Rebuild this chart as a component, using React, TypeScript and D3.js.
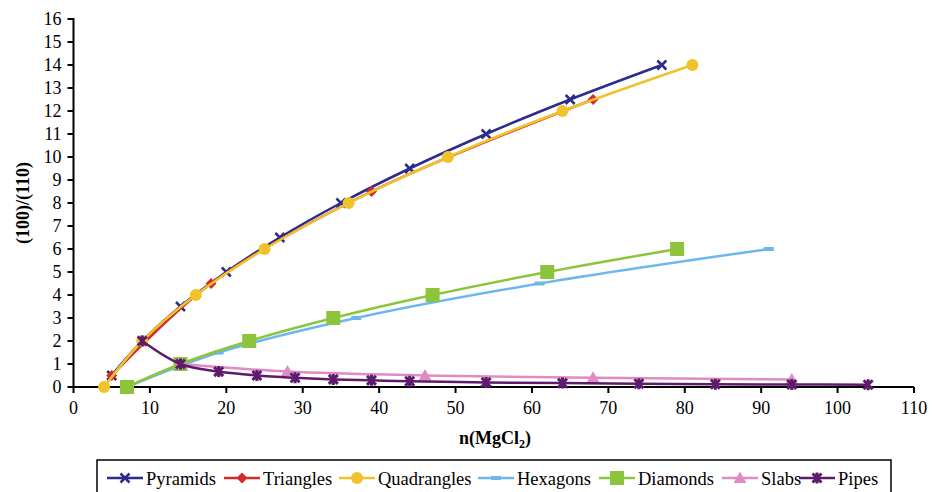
import React from 'react';
import * as d3 from 'd3';

// series: [n(MgCl2), (100)/(110)]
const pyramids: [number, number][] = [[5, 0.5], [9, 2], [14, 3.5], [20, 5], [27, 6.5], [35, 8], [44, 9.5], [54, 11], [65, 12.5], [77, 14]];
const triangles: [number, number][] = [[5, 0.5], [18, 4.5], [39, 8.5], [68, 12.5]];
const quadrangles: [number, number][] = [[4, 0], [9, 2], [16, 4], [25, 6], [36, 8], [49, 10], [64, 12], [81, 14]];
const hexagons: [number, number][] = [[7, 0], [19, 1.5], [37, 3], [61, 4.5], [91, 6]];
const diamonds: [number, number][] = [[7, 0], [14, 1], [23, 2], [34, 3], [47, 4], [62, 5], [79, 6]];
const slabs: [number, number][] = [[14, 1], [28, 0.67], [46, 0.5], [68, 0.4], [94, 0.33]];
const pipes: [number, number][] = [[9, 2], [14, 1], [19, 0.67], [24, 0.5], [29, 0.4], [34, 0.33], [39, 0.29], [44, 0.25], [54, 0.2], [64, 0.17], [74, 0.14], [84, 0.12], [94, 0.11], [104, 0.1]];

const xTicks = d3.range(0, 111, 10);
const yTicks = d3.range(0, 17, 1);

const series = [
  { name: 'Pyramids', data: pyramids, color: '#2b2c8c', marker: 'x' },
  { name: 'Triangles', data: triangles, color: '#d42a2a', marker: 'diamond' },
  { name: 'Quadrangles', data: quadrangles, color: '#f0c22b', marker: 'circle' },
  { name: 'Hexagons', data: hexagons, color: '#6cb8ee', marker: 'dash' },
  { name: 'Diamonds', data: diamonds, color: '#8cc43c', marker: 'square' },
  { name: 'Slabs', data: slabs, color: '#de8cc2', marker: 'triangle' },
  { name: 'Pipes', data: pipes, color: '#5e1b6e', marker: 'asterisk' },
];

const legendX = [107, 224, 339, 478, 599, 722, 799];

const FONT = 'Liberation Serif, DejaVu Serif, serif';

const Marker = ({ type, color, x, y }: { type: string; color: string; x: number; y: number }) => {
  const t = `translate(${x},${y})`;
  switch (type) {
    case 'x':
      return <path transform={t} d="M-4.5,-4.5L4.5,4.5M-4.5,4.5L4.5,-4.5" stroke={color} strokeWidth={2.5} fill="none" />;
    case 'diamond':
      return <path transform={t} d="M0,-5.5L5.5,0L0,5.5L-5.5,0Z" fill={color} />;
    case 'circle':
      return <circle cx={x} cy={y} r={6} fill={color} />;
    case 'dash':
      return <rect x={x - 5} y={y - 2} width={10} height={4} fill={color} />;
    case 'square':
      return <rect x={x - 7} y={y - 7} width={14} height={14} fill={color} />;
    case 'triangle':
      return <path transform={t} d="M0,-6.5L6.5,5L-6.5,5Z" fill={color} />;
    default:
      return (
        <path transform={t} d="M-4.5,-4.5L4.5,4.5M-4.5,4.5L4.5,-4.5M0,-5.5L0,5.5"
          stroke={color} strokeWidth={3} fill="none" />
      );
  }
};

export default function App() {
  const x = d3.scaleLinear().domain([0, 110]).range([73.5, 914]);
  const y = d3.scaleLinear().domain([0, 16]).range([387, 19]);

  const line = d3.line<[number, number]>()
    .x(d => x(d[0]))
    .y(d => y(d[1]))
    .curve(d3.curveCatmullRom.alpha(0.5));

  const txt = { fontFamily: FONT };

  return (
    <svg width={932} height={492} style={{ position: 'absolute', left: 0, top: 0, background: '#fff', fontFamily: FONT }}>
      {/* y axis */}
      <line x1={x(0)} x2={x(0)} y1={y(16) - 1} y2={y(0)} stroke="#000" strokeWidth={2} />
      {yTicks.map(t => (
        <g key={'y' + t}>
          <line x1={x(0) - 6} x2={x(0)} y1={y(t)} y2={y(t)} stroke="#000" strokeWidth={2} />
          <text style={txt} x={x(0) - 12} y={y(t)} dy="0.35em" textAnchor="end" fontSize={18}>{t}</text>
        </g>
      ))}
      {/* x axis */}
      <line x1={x(0)} x2={x(110)} y1={y(0)} y2={y(0)} stroke="#000" strokeWidth={2} />
      {xTicks.map(t => (
        <g key={'x' + t}>
          <line x1={x(t)} x2={x(t)} y1={y(0)} y2={y(0) + 6} stroke="#000" strokeWidth={2} />
          <text style={txt} x={x(t)} y={414} textAnchor="middle" fontSize={18}>{t}</text>
        </g>
      ))}

      {/* axis titles */}
      <text style={txt} transform="translate(29,203) rotate(-90)" textAnchor="middle" fontSize={18} fontWeight="bold">(100)/(110)</text>
      <text style={txt} x={495} y={444} textAnchor="middle" fontSize={18} fontWeight="bold">
        n(MgCl<tspan fontSize={12} dy={4}>2</tspan><tspan dy={-4}>)</tspan>
      </text>

      {/* series */}
      {series.map(s => (
        <g key={s.name}>
          <path d={line(s.data) || ''} fill="none" stroke={s.color} strokeWidth={2.5} />
          {s.data.map((d, i) => (
            <Marker key={i} type={s.marker} color={s.color} x={x(d[0])} y={y(d[1])} />
          ))}
        </g>
      ))}

      {/* legend */}
      <rect x={97} y={460} width={794} height={40} fill="#fff" stroke="#000" strokeWidth={1.5} />
      {series.map((s, i) => (
        <g key={'l' + s.name}>
          <line x1={legendX[i]} x2={legendX[i] + 36} y1={478} y2={478} stroke={s.color} strokeWidth={2.5} />
          <Marker type={s.marker} color={s.color} x={legendX[i] + 18} y={478} />
          <text style={txt} x={legendX[i] + 39} y={485} fontSize={18.5}>{s.name}</text>
        </g>
      ))}
    </svg>
  );
}
